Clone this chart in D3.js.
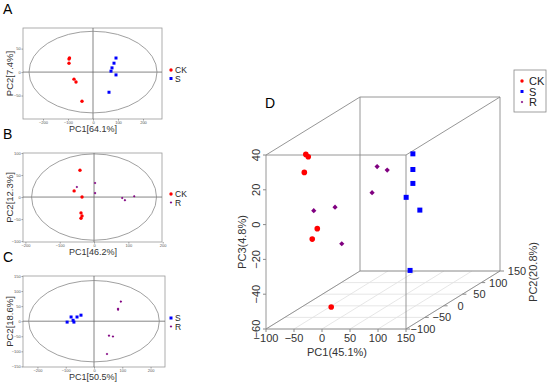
<!DOCTYPE html>
<html>
<head>
<meta charset="utf-8">
<script src="https://cdn.jsdelivr.net/npm/d3@7"></script>
<style>
  body { margin: 0; background: #fff; }
  svg { display: block; font-family: "Liberation Sans", Arial, sans-serif; }
</style>
</head>
<body>
<div id="chart"></div>
<script>
// ---- data ----
// panel A: CK vs S  (PC1, PC2)
var aCK = [[-96, 28], [-94, 30], [-96, 19], [-76, -15], [-68, -21], [-44, -62]];
var aS  = [[92, 30], [84, 19], [76, 9], [72, 2], [92, -6], [64, -43]];
// panel B: CK vs R
var bCK = [[-41, 61], [-58, 14], [-35, 0], [-38, -36], [-35, -43], [-38, -48]];
var bR  = [[-50, 23], [3, 32], [3, 9], [82, -2], [90, -7], [117, 2]];
// panel C: S vs R
var cS  = [[-95, -3], [-81, 14], [-74, 3], [-71, -3], [-60, 14], [-46, 20]];
var cR  = [[95, 65], [85, 41], [85, 38], [53, -48], [67, -51], [46, -109]];
// panel D: 3D (PC1, PC2, PC3)
var dCK = [[-96, 0, 27], [-85, -10, 27], [-92, -10, 18], [-42, -50, -9], [-51, -50, -15], [3, -80, -50]];
var dS  = [[28, 100, 14], [28, 100, 5], [28, 100, -3], [16, 100, -11], [27, 120, -21], [23, 100, -53]];
var dR  = [[-55, -40, 0], [-17, -40, 2], [-5, -40, -19], [-9, 60, 12], [9, 60, 10], [-18, 60, -3]];

var pc1Ticks3 = [-100, -50, 0, 50, 100, 150];
var pc2Ticks3 = [-100, -50, 0, 50, 100, 150];
var pc3Ticks3 = [-60, -40, -20, 0, 20, 40];

var colors = {CK: "#ff0000", S: "#0000ff", R: "#800080"};

var svg = d3.select("#chart").append("svg")
    .attr("width", 550).attr("height", 385);

// ---- 2D score plots ----
function drawMarker(g, type, x, y, big) {
  if (type == "S") {
    var s = big ? 5 : 3;
    g.append("rect").attr("x", x - s / 2).attr("y", y - s / 2)
      .attr("width", s).attr("height", s).attr("fill", colors.S);
  } else if (type == "CK") {
    g.append("circle").attr("cx", x).attr("cy", y).attr("r", big ? 2.8 : 1.7)
      .attr("fill", colors.CK);
  } else {
    var r = big ? 2.6 : 1.3;
    g.append("path")
      .attr("d", "M" + x + "," + (y - r) + "L" + (x + r) + "," + y + "L" + x + "," + (y + r) + "L" + (x - r) + "," + y + "Z")
      .attr("fill", colors.R);
  }
}

function panel2d(cfg) {
  var g = svg.append("g");
  var x = d3.scaleLinear().domain(cfg.xdom).range([23, cfg.right]);
  var y = d3.scaleLinear().domain(cfg.ydom).range([cfg.bottom, cfg.top]);

  g.append("text").attr("x", 3).attr("y", cfg.top - 14)
    .attr("font-size", 14).text(cfg.letter);

  g.append("rect").attr("x", 23).attr("y", cfg.top)
    .attr("width", cfg.right - 23).attr("height", cfg.bottom - cfg.top)
    .attr("fill", "none").attr("stroke", "#999").attr("stroke-width", 0.8);

  // crosshair
  g.append("line").attr("x1", x(0)).attr("x2", x(0)).attr("y1", cfg.top).attr("y2", cfg.bottom)
    .attr("stroke", "#666").attr("stroke-width", 0.8);
  g.append("line").attr("x1", 23).attr("x2", cfg.right).attr("y1", y(0)).attr("y2", y(0))
    .attr("stroke", "#666").attr("stroke-width", 0.8);

  // confidence ellipse
  g.append("ellipse").attr("cx", x(0)).attr("cy", y(0))
    .attr("rx", x(cfg.ell[0]) - x(0)).attr("ry", y(0) - y(cfg.ell[1]))
    .attr("fill", "none").attr("stroke", "#888").attr("stroke-width", 0.8);

  // axes
  var xa = g.append("g").attr("transform", "translate(0," + cfg.bottom + ")")
    .call(d3.axisBottom(x).tickValues(cfg.xticks).tickSize(1.5).tickPadding(0.5));
  var ya = g.append("g").attr("transform", "translate(23,0)")
    .call(d3.axisLeft(y).tickValues(cfg.yticks).tickSize(1.5).tickPadding(0.8));
  [xa, ya].forEach(function(a) {
    a.select(".domain").remove();
    a.selectAll("line").attr("stroke", "#999");
    a.selectAll("text").attr("font-size", 4).attr("fill", "#555").attr("font-family", "Liberation Sans, Arial");
  });

  g.append("text").attr("x", 93).attr("y", cfg.bottom + 13)
    .attr("text-anchor", "middle").attr("font-size", 9).attr("fill", "#333").text(cfg.xlab);
  g.append("text").attr("transform", "translate(13," + ((cfg.top + cfg.bottom) / 2) + ") rotate(-90)")
    .attr("text-anchor", "middle").attr("font-size", 9.5).attr("fill", "#333").text(cfg.ylab);

  cfg.groups.forEach(function(gr) {
    gr.data.forEach(function(d) { drawMarker(g, gr.name, x(d[0]), y(d[1]), false); });
  });

  // legend
  cfg.groups.forEach(function(gr, i) {
    var ly = cfg.legY + i * 8.5;
    drawMarker(g, gr.name, 171, ly, false);
    g.append("text").attr("x", 175).attr("y", ly + 3).attr("font-size", 8.5)
      .attr("fill", "#222").text(gr.name);
  });
}

panel2d({letter: "A", top: 28, bottom: 119, right: 162,
  xdom: [-280, 276], ydom: [-100, 94], ell: [256, 87],
  xticks: [-200, -100, 0, 100, 200], yticks: [-50, 0, 50],
  xlab: "PC1[64.1%]", ylab: "PC2[7.4%]", legY: 70,
  groups: [{name: "CK", data: aCK}, {name: "S", data: aS}]});

panel2d({letter: "B", top: 153, bottom: 242, right: 162,
  xdom: [-207, 198], ydom: [-102, 100], ell: [182, 98],
  xticks: [-200, -100, 0, 100, 200], yticks: [-100, -50, 0, 50, 100],
  xlab: "PC1[46.2%]", ylab: "PC2[12.3%]", legY: 194,
  groups: [{name: "CK", data: bCK}, {name: "R", data: bR}]});

panel2d({letter: "C", top: 276, bottom: 367, right: 165,
  xdom: [-251, 251], ydom: [-152, 150], ell: [231, 135],
  xticks: [-200, -100, 0, 100, 200], yticks: [-150, -100, -50, 0, 50, 100, 150],
  xlab: "PC1[50.5%]", ylab: "PC2[18.6%]", legY: 318,
  groups: [{name: "S", data: cS}, {name: "R", data: cR}]});

// ---- 3D plot (D) ----
var gD = svg.append("g");
var x0 = 266;
var depth = [94, -58];
var px1 = d3.scaleLinear().domain([-100, 150]).range([0, 140]);
var px3 = d3.scaleLinear().domain([-60, 40]).range([329, 155]);
var px2 = d3.scaleLinear().domain([-100, 150]).range([0, 1]);
function proj(a, b, c) {
  return [x0 + px1(a) + px2(b) * depth[0], px3(c) + px2(b) * depth[1]];
}

gD.append("text").attr("x", 265).attr("y", 108).attr("font-size", 14).text("D");

var grid = "#e0e0e0";
pc1Ticks3.forEach(function(t) {
  var p = proj(t, -100, -60), q = proj(t, 150, -60);
  gD.append("line").attr("x1", p[0]).attr("y1", p[1]).attr("x2", q[0]).attr("y2", q[1])
    .attr("stroke", grid).attr("stroke-width", 0.8);
});
pc2Ticks3.forEach(function(t) {
  var p = proj(-100, t, -60), q = proj(150, t, -60);
  gD.append("line").attr("x1", p[0]).attr("y1", p[1]).attr("x2", q[0]).attr("y2", q[1])
    .attr("stroke", grid).attr("stroke-width", 0.8);
});

// box edges
var corners = [];
[-100, 150].forEach(function(a) { [-100, 150].forEach(function(b) { [-60, 40].forEach(function(c) {
  corners.push([a, b, c]);
}); }); });
var edges = [];
for (var i = 0; i < corners.length; i++) {
  for (var j = i + 1; j < corners.length; j++) {
    var diff = 0;
    for (var k = 0; k < 3; k++) if (corners[i][k] != corners[j][k]) diff++;
    if (diff == 1) edges.push([corners[i], corners[j]]);
  }
}
edges.forEach(function(e) {
  var p = proj.apply(null, e[0]), q = proj.apply(null, e[1]);
  gD.append("line").attr("x1", p[0]).attr("y1", p[1]).attr("x2", q[0]).attr("y2", q[1])
    .attr("stroke", "#8a8a8a").attr("stroke-width", 0.9);
});

// axis ticks and labels
var tc = "#333";
pc1Ticks3.forEach(function(t) {
  var p = proj(t, -100, -60);
  gD.append("line").attr("x1", p[0]).attr("x2", p[0]).attr("y1", p[1]).attr("y2", p[1] + 3)
    .attr("stroke", "#8a8a8a");
  gD.append("text").attr("x", p[0]).attr("y", p[1] + 13).attr("text-anchor", "middle")
    .attr("font-size", 11).attr("fill", tc).text(String(t).replace("-", "\u2212"));
});
pc3Ticks3.forEach(function(t) {
  var p = proj(-100, -100, t);
  gD.append("line").attr("x1", p[0] - 3).attr("x2", p[0]).attr("y1", p[1]).attr("y2", p[1])
    .attr("stroke", "#8a8a8a");
  gD.append("text").attr("transform", "translate(" + (p[0] - 6) + "," + p[1] + ") rotate(-90)")
    .attr("text-anchor", "middle").attr("font-size", 11).attr("fill", tc)
    .text(String(t).replace("-", "\u2212"));
});
pc2Ticks3.forEach(function(t) {
  var p = proj(150, t, -60);
  gD.append("line").attr("x1", p[0]).attr("x2", p[0] + 4).attr("y1", p[1]).attr("y2", p[1])
    .attr("stroke", "#8a8a8a");
  gD.append("text").attr("x", p[0] + 17).attr("y", p[1] + 4).attr("text-anchor", "middle")
    .attr("font-size", 11).attr("fill", tc).text(String(t).replace("-", "\u2212"));
});

gD.append("text").attr("x", 337).attr("y", 356).attr("text-anchor", "middle")
  .attr("font-size", 11).attr("fill", tc).text("PC1(45.1%)");
gD.append("text").attr("transform", "translate(246,242) rotate(-90)").attr("text-anchor", "middle")
  .attr("font-size", 11).attr("fill", tc).text("PC3(4.8%)");
gD.append("text").attr("transform", "translate(537,272) rotate(-90)").attr("text-anchor", "middle")
  .attr("font-size", 11).attr("fill", tc).text("PC2(20.8%)");

// points
[["CK", dCK], ["R", dR], ["S", dS]].forEach(function(gr) {
  gr[1].forEach(function(d) {
    var p = proj(d[0], d[1], d[2]);
    drawMarker(gD, gr[0], p[0], p[1], true);
  });
});

// legend
gD.append("rect").attr("x", 514).attr("y", 70).attr("width", 32).attr("height", 42)
  .attr("fill", "#fff").attr("stroke", "#888").attr("stroke-width", 0.8);
["CK", "S", "R"].forEach(function(n, i) {
  var ly = 81 + i * 10.5;
  drawMarker(gD, n, 522, ly, false);
  gD.append("text").attr("x", 529).attr("y", ly + 4).attr("font-size", 11)
    .attr("fill", "#222").text(n);
});
</script>
</body>
</html>
